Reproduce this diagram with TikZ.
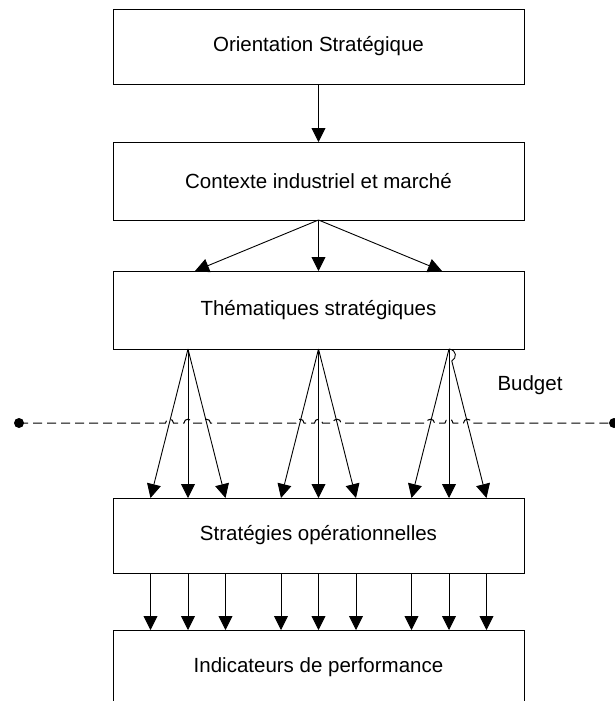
\documentclass[tikz,border=0pt]{standalone}
\usepackage{fontspec}
\setmainfont{Liberation Sans}
\usetikzlibrary{arrows.meta,calc}
\begin{document}
\begin{tikzpicture}[x=1pt,y=-1pt,
  box/.style={draw, line width=0.9pt, minimum width=411pt, inner sep=0pt,
    outer sep=0pt, font=\fontsize{20.5}{24}\selectfont},
  link/.style={line width=0.9pt, -{Triangle[length=14pt,width=14pt]}},
  dot/.style={circle, fill, inner sep=0pt, minimum size=10pt},
  budgetline/.style={line width=1pt, dash pattern=on 9pt off 5pt},
]
\useasboundingbox (0,0) rectangle (615,701);
\clip (0,0) rectangle (615,701);

% the five levels
\node[box, minimum height=75pt] (orient) at (318.5,46.5)  {Orientation Stratégique};
\node[box, minimum height=78pt] (ctx)    at (318.5,181)   {Contexte industriel et marché};
\node[box, minimum height=78pt] (thema)  at (318.5,310)   {Thématiques stratégiques};
\node[box, minimum height=75pt] (ops)    at (318.5,535.5) {Stratégies opérationnelles};
\node[box, minimum height=75pt] (kpi)    at (318.5,667.5) {Indicateurs de performance};

% column positions
\coordinate (ta) at (195,0);
\coordinate (tc) at (442,0);
\foreach \i/\x in {1/188, 2/318.5, 3/449} {
  \coordinate (g\i) at (\x,0);
  \coordinate (l\i) at (\x-37.5,0);
  \coordinate (r\i) at (\x+37.5,0);
}

% top links
\draw[link] (orient.south) -- (ctx.north);
\draw[link] (ctx.south) -- (thema.north -| ta);
\draw[link] (ctx.south) -- (thema.north);
\draw[link] (ctx.south) -- (thema.north -| tc);

% thematic themes to operational strategies
\foreach \i in {1,2} {
  \draw[link] (thema.south -| g\i) -- (ops.north -| l\i);
  \draw[link] (thema.south -| g\i) -- (ops.north -| g\i);
  \draw[link] (thema.south -| g\i) -- (ops.north -| r\i);
}
\draw[link] (thema.south -| g3) -- (ops.north -| l3);
\draw[link] (thema.south -| g3) -- (ops.north -| g3);
\draw[link] (thema.south -| g3) .. controls (457,350) and (457,358) .. (451.8,361)
  -- (ops.north -| r3);

% operational strategies to indicators
\foreach \i in {1,2,3} {
  \draw[link] (ops.south -| l\i) -- (kpi.north -| l\i);
  \draw[link] (ops.south -| g\i) -- (kpi.north -| g\i);
  \draw[link] (ops.south -| r\i) -- (kpi.north -| r\i);
}

% budget boundary with line jumps over the links
\node[dot] (bl) at (19,423) {};
\node[dot] (br) at (614,423) {};
\draw[budgetline] (bl.center)
  \foreach \x in {169.5,188,206.5, 300,318.5,337, 430.5,449,467.5} {
    -- (\x-4,423) .. controls (\x-4,418) and (\x+4,418) .. (\x+4,423)
  } -- (br.center);
\node[font=\fontsize{20.5}{24}\selectfont] (budget) at (530,385) {Budget};
\end{tikzpicture}
\end{document}
